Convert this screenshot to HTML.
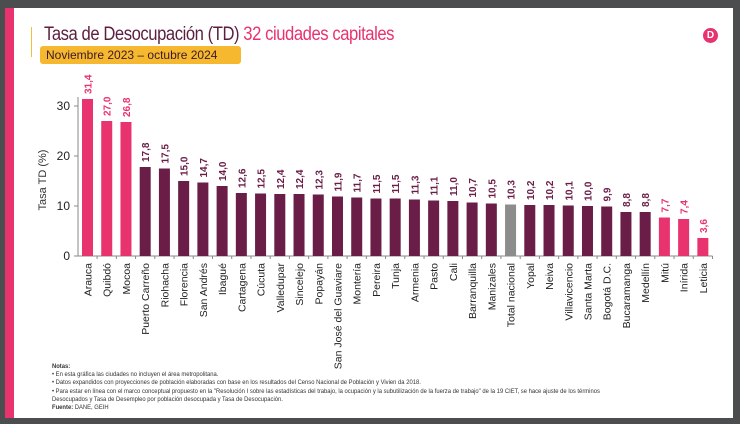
<!DOCTYPE html>
<html><head><meta charset="utf-8"><style>
body{margin:0;width:740px;height:424px;background:#4b4d4f;overflow:hidden;font-family:"Liberation Sans",sans-serif}
#panel{position:absolute;left:5px;top:8px;width:728px;height:410px;background:#fff}
#bar{position:absolute;left:5px;top:8px;width:9px;height:410px;background:#e8336e}
#title{position:absolute;left:44px;top:24px;font-size:19px;color:#5c1e3f;letter-spacing:-0.5px;transform:scaleX(0.875);transform-origin:0 0;white-space:nowrap}
#title span{color:#e8336e}
#vline{position:absolute;left:31px;top:27px;width:1px;height:30px;background:#f0c040}
#sub{position:absolute;left:40px;top:46px;width:201px;height:18px;background:#f5b82e;border-radius:3px;font-size:12px;color:#3a1a2a;line-height:18px;padding-left:6px;box-sizing:border-box;white-space:nowrap}
#logo{position:absolute;left:703px;top:28px;width:15px;height:15px;border-radius:50%;background:#e8336e;color:#fff;font-size:10px;text-align:center;line-height:15px;font-weight:bold}
#notes{position:absolute;left:52px;top:363px;font-size:6.3px;line-height:8.2px;color:#333;transform:scaleX(0.93);transform-origin:0 0;white-space:nowrap}
svg{position:absolute;left:0;top:0}
</style></head><body>
<div id="panel"></div>
<div id="bar"></div>
<div id="vline"></div>
<div id="title">Tasa de Desocupación (TD) <span>32 ciudades capitales</span></div>
<div id="sub">Noviembre 2023 – octubre 2024</div>
<div id="logo">D</div>
<svg id="chart" width="740" height="424"></svg>
<div id="notes"><b>Notas:</b><br>• En esta gráfica las ciudades no incluyen el área metropolitana.<br>• Datos expandidos con proyecciones de población elaboradas con base en los resultados del Censo Nacional de Población y Vivien da 2018.<br>• Para estar en línea con el marco conceptual propuesto en la "Resolución I sobre las estadísticas del trabajo, la ocupación y la subutilización de la fuerza de trabajo" de la 19 CIET, se hace ajuste de los términos<br>Desocupados y Tasa de Desempleo por población desocupada y Tasa de Desocupación.<br><b>Fuente:</b> DANE, GEIH</div>
<script>
const categories=["Arauca","Quibdó","Mocoa","Puerto Carreño","Riohacha","Florencia","San Andrés","Ibagué","Cartagena","Cúcuta","Valledupar","Sincelejo","Popayán","San José del Guaviare","Montería","Pereira","Tunja","Armenia","Pasto","Cali","Barranquilla","Manizales","Total nacional","Yopal","Neiva","Villavicencio","Santa Marta","Bogotá D.C.","Bucaramanga","Medellín","Mitú","Inírida","Leticia"];
const values=[31.4,27.0,26.8,17.8,17.5,15.0,14.7,14.0,12.6,12.5,12.4,12.4,12.3,11.9,11.7,11.5,11.5,11.3,11.1,11.0,10.7,10.5,10.3,10.2,10.2,10.1,10.0,9.9,8.8,8.8,7.7,7.4,3.6];
const groups=["hi","hi","hi","m","m","m","m","m","m","m","m","m","m","m","m","m","m","m","m","m","m","m","nat","m","m","m","m","m","m","m","lo","lo","lo"];
const yTicks=[0,10,20,30];
const NS="http://www.w3.org/2000/svg",svg=document.getElementById("chart");
const y0=256,ppu=5.0,x0=87.5,step=19.23,bw=11;
const Y=v=>y0-v*ppu, X=i=>x0+i*step;
const col={hi:"#e8336e",lo:"#e8336e",m:"#6a1d47",nat:"#8c8c8c"};
const lcol={hi:"#e8336e",lo:"#e8336e",m:"#6a1d47",nat:"#6a1d47"};
function el(t,a){const e=document.createElementNS(NS,t);for(const k in a)e.setAttribute(k,a[k]);svg.appendChild(e);return e;}
let ax=el("line",{x1:78,y1:97,x2:78,y2:y0,stroke:"#888","stroke-width":1});


let bx=el("line",{x1:78,y1:y0,x2:X(categories.length-1)+step/2,y2:y0,stroke:"#888","stroke-width":1});


yTicks.forEach(t=>{
  el("line",{x1:74,y1:Y(t),x2:78,y2:Y(t),stroke:"#888"});
  let tx=el("text",{x:70,y:Y(t)+4,"text-anchor":"end","font-size":12,fill:"#222"});tx.textContent=t;
  
  
});
let yt=el("text",{transform:"translate(46,180) rotate(-90)","text-anchor":"middle","font-size":11,fill:"#333"});yt.textContent="Tasa TD (%)";


categories.forEach((c,i)=>{
  const cx=X(i),v=values[i],g=groups[i];
  el("line",{x1:cx+step/2,y1:y0,x2:cx+step/2,y2:y0+3,stroke:"#888"});
  let r=el("rect",{x:cx-bw/2,y:Y(v),width:bw,height:v*ppu,fill:col[g]});
  
  
  let vl=el("text",{transform:`translate(${cx+4},${Y(v)-5}) rotate(-90)`,"font-size":10,"font-weight":"bold",fill:lcol[g]});
  vl.textContent=v.toFixed(1).replace(".",",");
  
  
  let cl=el("text",{transform:`translate(${cx+4},${y0+7}) rotate(-90)`,"text-anchor":"end","font-size":10.5,fill:"#222"});
  cl.textContent=c;
  
  
});
</script>
</body></html>
